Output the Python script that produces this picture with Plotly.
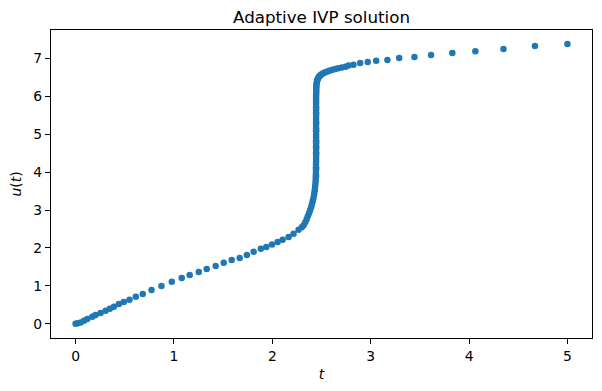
import plotly.graph_objects as go

# Solution points (t, u)
t_vals = [
    0.0, 0.02, 0.051, 0.085, 0.119, 0.170, 0.203, 0.254, 0.305, 0.348, 0.389,
    0.440, 0.490, 0.548, 0.612, 0.683, 0.772, 0.873, 0.978, 1.079,
    1.160, 1.252, 1.333, 1.424, 1.506, 1.587, 1.668, 1.741, 1.810,
    1.883, 1.939, 1.997, 2.054, 2.105, 2.166, 2.216, 2.267, 2.300,
    2.318, 2.335, 2.350, 2.362, 2.374, 2.385, 2.395, 2.403, 2.411,
    2.418, 2.424, 2.429, 2.433, 2.436, 2.439, 2.441, 2.442, 2.443,
    2.444, 2.444, 2.444, 2.445, 2.445, 2.445, 2.445, 2.445, 2.445,
    2.445, 2.445, 2.445, 2.445, 2.445, 2.445, 2.445, 2.445, 2.445,
    2.445, 2.445, 2.445, 2.445, 2.445, 2.445, 2.445, 2.445, 2.445,
    2.445, 2.445, 2.445, 2.445, 2.445, 2.445, 2.445, 2.445, 2.445,
    2.446, 2.446, 2.446, 2.447, 2.448, 2.450, 2.453, 2.457, 2.462,
    2.468, 2.476, 2.486, 2.498, 2.512, 2.528, 2.546, 2.566, 2.588,
    2.612, 2.640, 2.670, 2.705, 2.745, 2.775, 2.825, 2.893, 2.970,
    3.056, 3.170, 3.290, 3.445, 3.614, 3.830, 4.064, 4.350, 4.670, 5.0,
]
u_vals = [
    0.0, 0.015, 0.034, 0.080, 0.124, 0.185, 0.230, 0.282, 0.343, 0.396, 0.449,
    0.520, 0.573, 0.633, 0.712, 0.784, 0.889, 0.995, 1.108, 1.206,
    1.285, 1.364, 1.443, 1.522, 1.609, 1.681, 1.734, 1.813, 1.900,
    1.979, 2.024, 2.092, 2.156, 2.216, 2.288, 2.375, 2.480, 2.545,
    2.600, 2.680, 2.760, 2.840, 2.920, 3.000, 3.080, 3.160, 3.240,
    3.320, 3.400, 3.480, 3.560, 3.640, 3.720, 3.800, 3.880, 3.960,
    4.040, 4.120, 4.200, 4.280, 4.360, 4.440, 4.520, 4.600, 4.680,
    4.760, 4.840, 4.920, 5.000, 5.080, 5.160, 5.240, 5.320, 5.400,
    5.480, 5.560, 5.640, 5.720, 5.800, 5.860, 5.920, 5.980, 6.040,
    5.700, 5.100, 4.500, 3.900, 4.800, 5.300, 4.100, 4.650, 5.550,
    6.090, 6.140, 6.190, 6.240, 6.290, 6.340, 6.385, 6.425, 6.460,
    6.490, 6.520, 6.550, 6.575, 6.600, 6.620, 6.640, 6.660, 6.680,
    6.700, 6.720, 6.740, 6.760, 6.780, 6.810, 6.830, 6.880, 6.905,
    6.940, 6.960, 7.010, 7.040, 7.090, 7.140, 7.190, 7.250, 7.330, 7.380,
]

x_ticks = [0, 1, 2, 3, 4, 5]
y_ticks = [0, 1, 2, 3, 4, 5, 6, 7]

fig = go.Figure()
fig.add_trace(go.Scatter(
    x=t_vals, y=u_vals, mode="markers",
    marker=dict(size=6.5, color="#1f77b4", line=dict(width=0)),
    showlegend=False,
))

font = dict(family="DejaVu Sans", size=13.9, color="black")
# page body has an 8px default margin, so the figure is 8px smaller
fig.update_layout(
    width=594, height=383,
    margin=dict(l=43, r=10, t=22, b=53, autoexpand=False),
    paper_bgcolor="white", plot_bgcolor="white",
    font=font,
    title=dict(text="Adaptive IVP solution", x=0.5, xref="paper",
               y=1, yref="paper", yanchor="bottom", pad=dict(b=7),
               automargin=False,
               font=dict(family="DejaVu Sans", size=16.7, color="black")),
)
axis_common = dict(
    showgrid=False, zeroline=False, showline=True, mirror=True,
    linecolor="black", linewidth=1.1, ticks="outside", ticklen=5,
    tickwidth=1.1, tickcolor="black", tickfont=font, automargin=False,
)
fig.update_xaxes(range=[-0.25, 5.25], tickvals=x_ticks,
                 title=dict(text="<i>t</i>", font=font, standoff=6),
                 **axis_common)
fig.update_yaxes(range=[-0.377, 7.75], tickvals=y_ticks,
                 title=dict(text="<i>u</i>(<i>t</i>)", font=font, standoff=8),
                 **axis_common)

fig.write_html("out.html")
